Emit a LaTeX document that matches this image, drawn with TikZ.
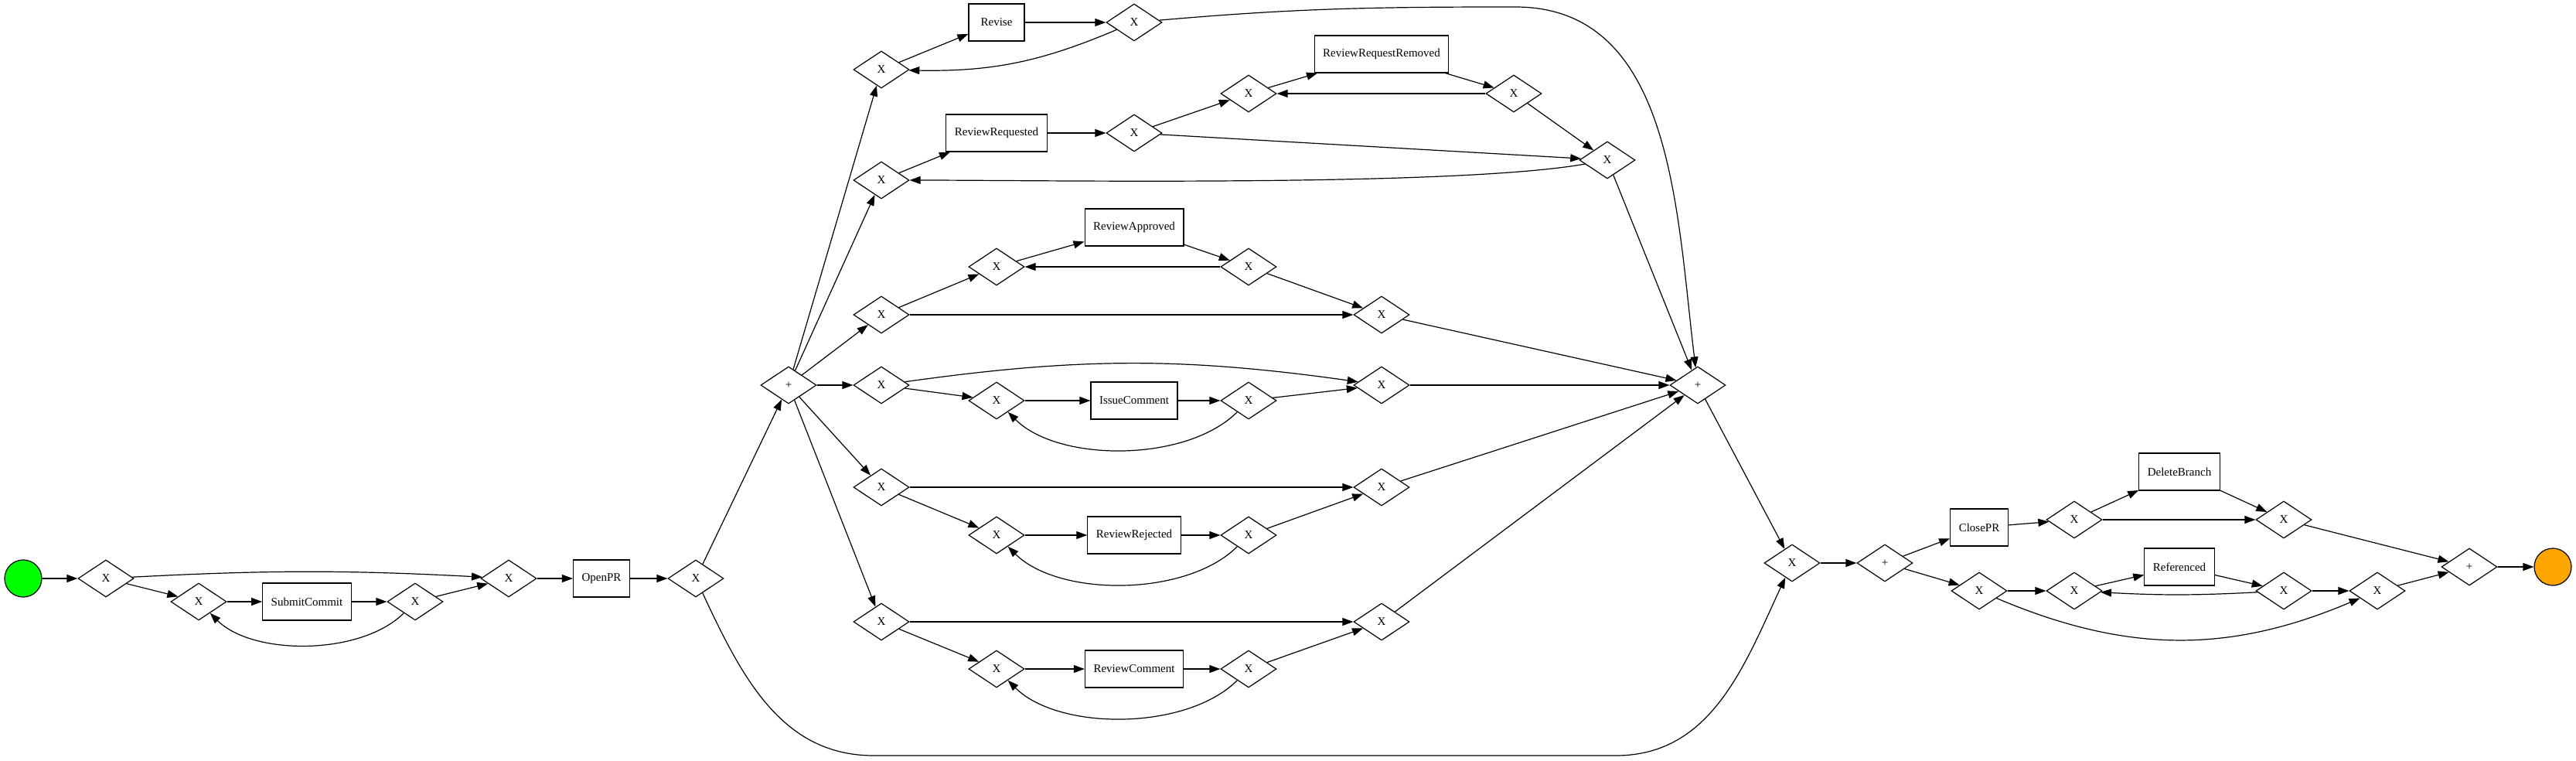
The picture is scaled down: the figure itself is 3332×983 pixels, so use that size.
\documentclass[tikz,border=0pt]{standalone}
\usepackage{fontspec}
\setmainfont{Liberation Serif}
\usetikzlibrary{shapes.geometric,arrows.meta}
\definecolor{startgreen}{HTML}{00FF00}
\definecolor{endorange}{HTML}{FFA500}

\begin{document}
\begin{tikzpicture}[x=1pt,y=1pt,
    gate/.style={diamond,draw,line width=1.2pt,minimum width=72pt,minimum height=48pt,inner sep=0pt,font=\fontsize{15}{18}\selectfont},
    task/.style={rectangle,draw,line width=1.2pt,minimum width=72pt,minimum height=48pt,inner xsep=11pt,font=\fontsize{15}{18}\selectfont},
    event/.style={circle,draw,line width=1.2pt,minimum size=48pt,inner sep=0pt},
    flow/.style={line width=1.2pt,-{Triangle[length=14pt,width=10pt]}}]
    \useasboundingbox (0,0) rectangle (3332,983);

    % Start and the commit loop
    \node[event,fill=startgreen] (start) at (30,235) {};
    \node[gate] (X1) at (137,235) {X};
    \node[gate] (X2) at (257,205) {X};
    \node[task] (submit) at (397,205) {SubmitCommit};
    \node[gate] (X3) at (537,205) {X};
    \node[gate] (X4) at (658,235) {X};
    \node[task] (openpr) at (778,235) {OpenPR};
    \node[gate] (X5) at (900,235) {X};

    % Parallel split
    \node[gate] (P1) at (1020,485) {+};

    % Revise
    \node[gate] (XRv) at (1140,893) {X};
    \node[task] (revise) at (1289,954) {Revise};
    \node[gate] (XRv2) at (1467,954) {X};

    % Review requested / removed
    \node[gate] (XRq) at (1140,750) {X};
    \node[task] (requested) at (1289,811) {ReviewRequested};
    \node[gate] (XRq2) at (1467,811) {X};
    \node[gate] (XRq3) at (1615,862) {X};
    \node[task] (removed) at (1787,913) {ReviewRequestRemoved};
    \node[gate] (XRq4) at (1958,862) {X};
    \node[gate] (XRq5) at (2079,776) {X};

    % Review approved
    \node[gate] (XA) at (1140,576) {X};
    \node[gate] (XA2) at (1289,638) {X};
    \node[task] (approved) at (1467,689) {ReviewApproved};
    \node[gate] (XA3) at (1615,638) {X};
    \node[gate] (XA4) at (1787,576) {X};

    % Issue comment
    \node[gate] (XI) at (1140,485) {X};
    \node[gate] (XI2) at (1289,465) {X};
    \node[task] (issue) at (1467,465) {IssueComment};
    \node[gate] (XI3) at (1615,465) {X};
    \node[gate] (XI4) at (1787,485) {X};

    % Review rejected
    \node[gate] (XRj) at (1140,353) {X};
    \node[gate] (XRj2) at (1289,291) {X};
    \node[task] (rejected) at (1467,291) {ReviewRejected};
    \node[gate] (XRj3) at (1615,291) {X};
    \node[gate] (XRj4) at (1787,353) {X};

    % Review comment
    \node[gate] (XRc) at (1140,179) {X};
    \node[gate] (XRc2) at (1289,118) {X};
    \node[task] (comment) at (1467,118) {ReviewComment};
    \node[gate] (XRc3) at (1615,118) {X};
    \node[gate] (XRc4) at (1787,179) {X};

    % Parallel join
    \node[gate] (P2) at (2196,485) {+};

    % Closing part
    \node[gate] (XM) at (2318,255) {X};
    \node[gate] (P3) at (2438,255) {+};
    \node[task] (closepr) at (2560,301) {ClosePR};
    \node[gate] (XC1) at (2683,311) {X};
    \node[task] (delete) at (2819,373) {DeleteBranch};
    \node[gate] (XC2) at (2954,311) {X};
    \node[gate] (XF1) at (2560,219) {X};
    \node[gate] (XF2) at (2683,219) {X};
    \node[task] (referenced) at (2819,250) {Referenced};
    \node[gate] (XF3) at (2954,219) {X};
    \node[gate] (XF4) at (3075,219) {X};
    \node[gate] (P4) at (3194,250) {+};
    \node[event,fill=endorange] (end) at (3302,250) {};

    % Bend points of the two long curves
    \coordinate (topbend) at (1960,974);
    \coordinate (lowleft) at (1130,6);
    \coordinate (lowright) at (2090,6);

    % Commit loop edges
    \draw[flow] (start) -- (X1);
    \draw[flow] (X1) to[bend left=3] (X4);
    \draw[flow] (X1) -- (X2);
    \draw[flow] (X2) -- (submit);
    \draw[flow] (submit) -- (X3);
    \draw[flow] (X3) -- (X4);
    \draw[flow] (X3) to[out=-135,in=-45,looseness=0.8] (X2);
    \draw[flow] (X4) -- (openpr);
    \draw[flow] (openpr) -- (X5);
    \draw[flow] (X5) -- (P1);
    \draw[flow] (X5) to[out=-65,in=180] (lowleft) -- (lowright) to[out=0,in=-115] (XM);

    % Split into the branches
    \foreach \g in {XRv,XRq,XA,XI,XRj,XRc}
        \draw[flow] (P1) -- (\g);

    % Revise
    \draw[flow] (XRv) -- (revise);
    \draw[flow] (revise) -- (XRv2);
    \draw[flow] (XRv2) to[bend left=12] (XRv);
    \draw[flow] (XRv2) to[out=5,in=180] (topbend) to[out=0,in=97] (P2);

    % Review requested / removed
    \draw[flow] (XRq) -- (requested);
    \draw[flow] (requested) -- (XRq2);
    \draw[flow] (XRq2) -- (XRq3);
    \draw[flow] (XRq2) -- (XRq5);
    \draw[flow] (XRq3) -- (removed);
    \draw[flow] (removed) -- (XRq4);
    \draw[flow] (XRq4) -- (XRq3);
    \draw[flow] (XRq4) -- (XRq5);
    \draw[flow] (XRq5) to[out=190,in=0,looseness=0.5] (XRq);
    \draw[flow] (XRq5) -- (P2);

    % Review approved
    \draw[flow] (XA) -- (XA2);
    \draw[flow] (XA2) -- (approved);
    \draw[flow] (approved) -- (XA3);
    \draw[flow] (XA3) -- (XA2);
    \draw[flow] (XA3) -- (XA4);
    \draw[flow] (XA) -- (XA4);
    \draw[flow] (XA4) -- (P2);

    % Issue comment
    \draw[flow] (XI) to[bend left=8] (XI4);
    \draw[flow] (XI) -- (XI2);
    \draw[flow] (XI2) -- (issue);
    \draw[flow] (issue) -- (XI3);
    \draw[flow] (XI3) -- (XI4);
    \draw[flow] (XI3) to[out=-135,in=-45,looseness=0.8] (XI2);
    \draw[flow] (XI4) -- (P2);

    % Review rejected
    \draw[flow] (XRj) -- (XRj4);
    \draw[flow] (XRj) -- (XRj2);
    \draw[flow] (XRj2) -- (rejected);
    \draw[flow] (rejected) -- (XRj3);
    \draw[flow] (XRj3) -- (XRj4);
    \draw[flow] (XRj3) to[out=-135,in=-45,looseness=0.8] (XRj2);
    \draw[flow] (XRj4) -- (P2);

    % Review comment
    \draw[flow] (XRc) -- (XRc4);
    \draw[flow] (XRc) -- (XRc2);
    \draw[flow] (XRc2) -- (comment);
    \draw[flow] (comment) -- (XRc3);
    \draw[flow] (XRc3) -- (XRc4);
    \draw[flow] (XRc3) to[out=-135,in=-45,looseness=0.8] (XRc2);
    \draw[flow] (XRc4) -- (P2);

    % Closing part
    \draw[flow] (P2) -- (XM);
    \draw[flow] (XM) -- (P3);
    \draw[flow] (P3) -- (closepr);
    \draw[flow] (closepr) -- (XC1);
    \draw[flow] (XC1) -- (delete);
    \draw[flow] (delete) -- (XC2);
    \draw[flow] (XC1) -- (XC2);
    \draw[flow] (XC2) -- (P4);
    \draw[flow] (P3) -- (XF1);
    \draw[flow] (XF1) -- (XF2);
    \draw[flow] (XF2) -- (referenced);
    \draw[flow] (referenced) -- (XF3);
    \draw[flow] (XF3) to[bend left=3] (XF2);
    \draw[flow] (XF3) -- (XF4);
    \draw[flow] (XF1) to[bend right=23] (XF4);
    \draw[flow] (XF4) -- (P4);
    \draw[flow] (P4) -- (end);
\end{tikzpicture}
\end{document}
